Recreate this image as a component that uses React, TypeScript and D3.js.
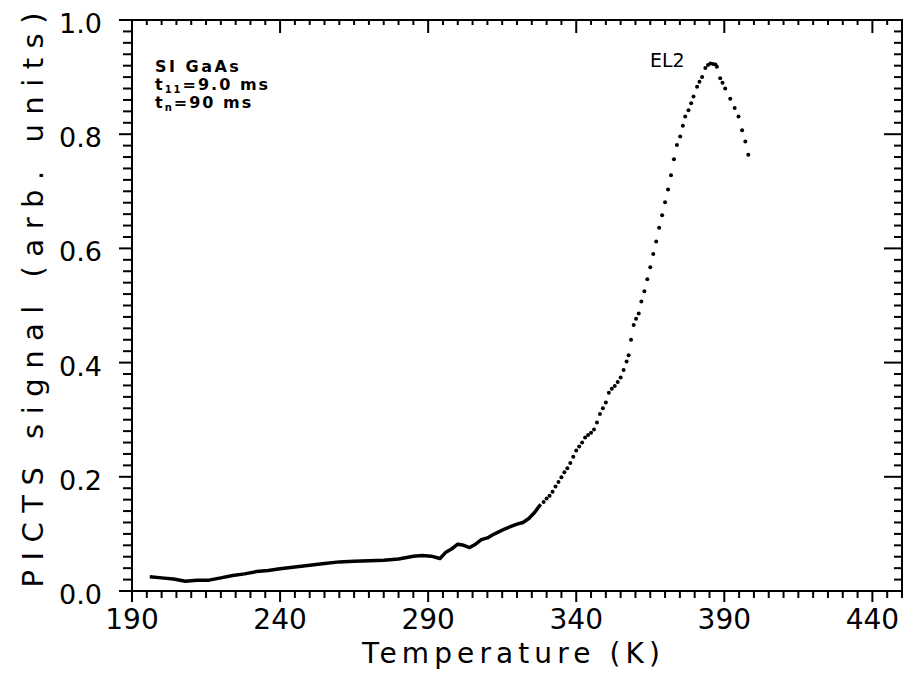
import React from "react";
import * as d3 from "d3";

const width = 906;
const height = 676;
const margin = { top: 20, right: 4, bottom: 85, left: 132 };

const xTickValues = [190, 240, 290, 340, 390, 440];
const yTickValues = [0, 0.2, 0.4, 0.6, 0.8, 1.0];
const yTickLabels = ["0.0", "0.2", "0.4", "0.6", "0.8", "1.0"];

// dense low temperature part, drawn as a thick trace
const lineTemps = [196, 200, 204, 208, 212, 216, 220, 224, 228, 232, 236, 240, 245, 250, 255, 260, 265, 270, 275, 280, 285, 288, 291, 294, 296, 298, 300, 302, 304, 306, 308, 310, 312, 314, 316, 318, 320, 322, 324, 326, 328];
const lineSignal = [0.025, 0.023, 0.021, 0.017, 0.019, 0.019, 0.023, 0.027, 0.030, 0.034, 0.036, 0.039, 0.042, 0.045, 0.048, 0.051, 0.052, 0.053, 0.054, 0.056, 0.061, 0.062, 0.061, 0.057, 0.068, 0.074, 0.082, 0.080, 0.076, 0.082, 0.090, 0.093, 0.099, 0.104, 0.109, 0.113, 0.117, 0.120, 0.127, 0.138, 0.152];

// sparse points of the EL2 peak
const dotTemps = [329, 330, 331, 332, 333, 334, 335, 336, 337, 338, 339, 340, 341, 342, 343, 344, 345, 346, 347, 348, 349, 350, 351, 352, 353, 354, 355, 356, 357, 357.7, 358.5, 359.4, 360.2, 361.1, 362, 363, 364, 365, 366, 367, 368, 369, 370, 371, 372, 373, 374, 375.1, 376, 376.8, 377.9, 378.8, 379.6, 380.8, 381.6, 382.5, 383.6, 384.5, 385.3, 386.2, 387, 387.5, 388.6, 389.4, 390.3, 392, 393.5, 394.8, 396, 397.1, 398.1];
const dotSignal = [0.156, 0.162, 0.167, 0.174, 0.183, 0.191, 0.199, 0.208, 0.215, 0.224, 0.235, 0.246, 0.253, 0.260, 0.269, 0.273, 0.277, 0.283, 0.295, 0.310, 0.320, 0.330, 0.347, 0.354, 0.359, 0.366, 0.374, 0.387, 0.402, 0.413, 0.440, 0.466, 0.477, 0.486, 0.507, 0.525, 0.546, 0.567, 0.590, 0.612, 0.636, 0.658, 0.681, 0.703, 0.728, 0.756, 0.781, 0.796, 0.815, 0.831, 0.842, 0.854, 0.866, 0.883, 0.892, 0.900, 0.916, 0.921, 0.924, 0.923, 0.922, 0.918, 0.898, 0.890, 0.880, 0.862, 0.846, 0.831, 0.807, 0.787, 0.764];

const font = "'DejaVu Sans', sans-serif";

export default function App() {
  const x = d3
    .scaleLinear()
    .domain([190, 450])
    .range([margin.left, width - margin.right]);
  const y = d3
    .scaleLinear()
    .domain([0, 1])
    .range([height - margin.bottom, margin.top]);

  const x0 = x.range()[0], x1 = x.range()[1];
  const y0 = y.range()[0], y1 = y.range()[1];

  const xMinor = d3.range(190, 451, 5);
  const yMinor = d3.range(0, 1.001, 0.02);
  const isXMajor = (t: number) => xTickValues.some(v => Math.abs(v - t) < 0.01);
  const isYMajor = (t: number) => yTickValues.some(v => Math.abs(v - t) < 0.001);

  const line = d3
    .line<number>()
    .x((d, i) => x(lineTemps[i]))
    .y(d => y(d));

  return (
    <div style={{ position: "absolute", left: 0, top: 0 }}>
      <svg width={width} height={height} style={{ display: "block", background: "#fff" }}>
        <g stroke="#000" strokeWidth={2} fill="none">
          <rect x={x0} y={y1} width={x1 - x0} height={y0 - y1} />
          {xMinor.map(t => {
            const m = isXMajor(t);
            return (
              <g key={"x" + t}>
                <line x1={x(t)} x2={x(t)} y1={y0} y2={y0 + (m ? 11 : 7)} />
                <line x1={x(t)} x2={x(t)} y1={y1} y2={y1 + (m ? 13 : 5)} />
              </g>
            );
          })}
          {yMinor.map(t => {
            const m = isYMajor(t);
            return (
              <g key={"y" + t.toFixed(2)}>
                <line x1={x0} x2={x0 - (m ? 13 : 9)} y1={y(t)} y2={y(t)} />
                <line x1={x1} x2={x1 - (m ? 18 : 8)} y1={y(t)} y2={y(t)} />
              </g>
            );
          })}
        </g>

        <path d={line(lineSignal) || ""} fill="none" stroke="#000" strokeWidth={3.5} strokeLinejoin="round" />
        {dotSignal.map((v, i) => (
          <circle key={"d" + i} cx={x(dotTemps[i])} cy={y(v)} r={2} fill="#000" />
        ))}

        <g fontFamily={font} fill="#000">
          {xTickValues.map(t => (
            <text key={"xl" + t} x={x(t)} y={629} fontSize={28} textAnchor="middle">{t}</text>
          ))}
          {yTickValues.map((t, i) => (
            <text key={"yl" + t} x={102} y={y(t) + 13} fontSize={27} textAnchor="end">{yTickLabels[i]}</text>
          ))}
          <text x={362} y={663} fontSize={28} textLength={298} lengthAdjust="spacing">Temperature  (K)</text>
          <text transform="translate(43, 300) rotate(-90)" fontSize={29} textAnchor="middle" textLength={575} lengthAdjust="spacing">PICTS signal  (arb.  units)</text>

          <text x={155} y={72} fontSize={16} fontWeight="bold" letterSpacing={2.5}>SI  GaAs</text>
          <text x={155} y={90} fontSize={16} fontWeight="bold" letterSpacing={2}>
            t<tspan fontSize={10} dy={3}>11</tspan><tspan dy={-3}>=9.0  ms</tspan>
          </text>
          <text x={155} y={108} fontSize={16} fontWeight="bold" letterSpacing={2}>
            t<tspan fontSize={10} dy={3}>n</tspan><tspan dy={-3}>=90  ms</tspan>
          </text>
          <text x={650} y={67} fontSize={19}>EL2</text>
        </g>
      </svg>
    </div>
  );
}
